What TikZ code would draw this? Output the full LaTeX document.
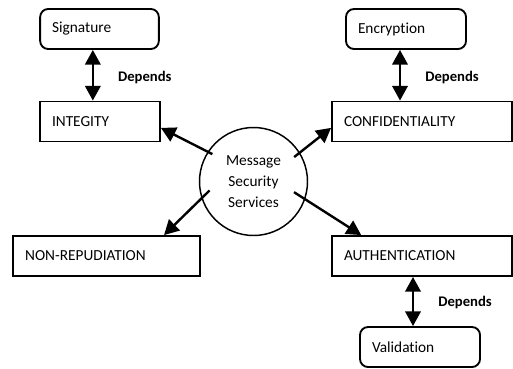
\documentclass[tikz,border=0pt]{standalone}
\usepackage{fontspec}
\setmainfont{Carlito}[Ligatures=NoCommon]
\usetikzlibrary{arrows.meta, positioning}

\tikzset{
  svc/.style={draw, line width=1.4pt, minimum height=30pt, inner xsep=9pt, inner ysep=0pt,
    align=left, font=\fontsize{11.5}{14}\selectfont},
  dep/.style={font=\fontsize{11}{13}\selectfont\bfseries, inner sep=0pt},
  link/.style={line width=1.8pt, -{Triangle[length=11pt,width=11.5pt]}},
  dlink/.style={line width=1.9pt, {Triangle[length=11pt,width=11.5pt]}-{Triangle[length=11pt,width=11.5pt]}}
}

\begin{document}
\begin{tikzpicture}[x=0.75pt, y=-0.75pt]
  \useasboundingbox (0,0) rectangle (513,368);

  \node[svc, rounded corners=6pt, text width=71pt] (sig) at (99.5,29) {Signature};
  \node[svc, rounded corners=6pt, text width=72pt] (enc) at (406,29) {Encryption};
  \node[svc, text width=72pt] (integ) at (100,121.5) {INTEGITY};
  \node[svc, text width=117pt] (conf) at (422,121.5) {CONFIDENTIALITY};
  \node[svc, text width=122pt] (nonrep) at (106.5,256) {NON-REPUDIATION};
  \node[svc, text width=117pt] (auth) at (422,256) {AUTHENTICATION};
  \node[svc, rounded corners=6pt, text width=72pt] (val) at (420,347) {Validation};

  \node[circle, draw, line width=1.1pt, minimum size=81pt, inner sep=0pt, align=center,
    font=\fontsize{11.5}{16}\selectfont] (msg) at (253.5,181.5) {Message\\Security\\Services};

  \path[link]
    (msg.147) edge[shorten <=-4pt] (integ.-6)
    (msg.32) edge[shorten <=-5.5pt] (conf.184)
    (msg.198) edge[shorten <=-8.5pt] (nonrep.20)
    (msg.341) edge[shorten <=-10pt] (auth.161);

  \path[dlink]
    ([xshift=-5pt]sig.south) edge node[dep, right=18pt, yshift=-2pt] {Depends} ([xshift=-5pt]sig.south |- integ.north)
    ([xshift=-4.5pt]enc.south) edge node[dep, right=18pt, yshift=-2pt] {Depends} ([xshift=-4.5pt]enc.south |- conf.north)
    ([xshift=-5.25pt]val.north |- auth.south) edge node[dep, right=18pt, yshift=-1pt] {Depends} ([xshift=-5.25pt]val.north);
\end{tikzpicture}
\end{document}
